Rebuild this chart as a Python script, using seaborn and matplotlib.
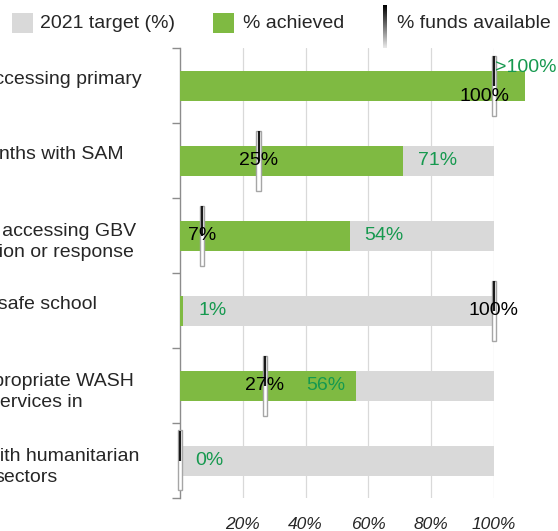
import numpy as np
import pandas as pd
import seaborn as sns
import matplotlib.pyplot as plt
from matplotlib import transforms
from matplotlib.patches import Rectangle

# data
row_ids = ['r1', 'r2', 'r3', 'r4', 'r5', 'r6']
label_lines = [
    ['Children accessing primary'],
    ['Children 6-59 months with SAM'],
    ['Women and girls accessing GBV', 'prevention, mitigation or response'],
    ['Children learning in a safe school'],
    ['People with appropriate WASH', 'services in'],
    ['Programmes coordinated with humanitarian', 'sectors'],
]
target = [100, 100, 100, 100, 100, 100]
achieved = [110, 71, 54, 1, 56, 0]
achieved_text = ['>100%', '71%', '54%', '1%', '56%', '0%']
funds = [100, 25, 7, 100, 27, 0]
funds_text = ['100%', '25%', '7%', '100%', '27%', '']
x_ticks = [20, 40, 60, 80, 100]
legend_labels = ['2021 target (%)', '% achieved', '% funds available']

# layout (pixels of the 558x531 canvas)
W, H = 558, 531
label_right_px = [[142], [124], [136, 134], [97], [134, 83], [139, 58]]
achieved_shift = {0: (-14.5, -0.24), 4: (-20.7, 0.0)}
funds_shift = {0: (-3.0, 0.15)}

GRAY = '#d9d9d9'
GREEN = '#7fba42'
TXT_GREEN = '#16994f'
AXIS_GRAY = '#8c8c8c'

sns.set_style('white')
plt.rcParams['font.family'] = ['Liberation Sans', 'DejaVu Sans']

fig = plt.figure(figsize=(W / 100, H / 100), dpi=100)
ax = fig.add_axes([180 / W, 1 - 498 / H, 314 / W, 450 / H])

df = pd.DataFrame({'row': row_ids, 'target': target, 'achieved': achieved})
sns.barplot(data=df, y='row', x='target', color=GRAY, saturation=1,
            width=0.4, orient='h', ax=ax, zorder=2)
sns.barplot(data=df, y='row', x='achieved', color=GREEN, saturation=1,
            width=0.4, orient='h', ax=ax, zorder=3)
for p in ax.patches:
    p.set_clip_on(False)
    p.set_linewidth(0)

ax.set_xlim(0, 100)
ax.set_ylim(len(row_ids) - 0.5, -0.5)

# funds markers
bw = 1.3
for i, f in enumerate(funds):
    ax.add_patch(Rectangle((f - bw / 2, i - 0.4), bw, 0.8, facecolor='white',
                           edgecolor='#a6a6a6', lw=1, zorder=4, clip_on=False))
    ax.plot([f, f], [i - 0.39, i], color='#1a1a1a', lw=1.6, zorder=5,
            clip_on=False, solid_capstyle='butt')

for i, (a, t) in enumerate(zip(achieved, achieved_text)):
    dx, dy = achieved_shift.get(i, (0, 0))
    ax.text(a + 4.8 + dx, i + dy, t, ha='left', va='center', fontsize=14,
            color=TXT_GREEN, zorder=6, clip_on=False)

for i, (f, t) in enumerate(zip(funds, funds_text)):
    dx, dy = funds_shift.get(i, (0, 0))
    ax.text(f + dx, i + dy, t, ha='center', va='center', fontsize=14,
            color='black', zorder=6, clip_on=False)

# axes styling
for s in ['top', 'right', 'bottom']:
    ax.spines[s].set_visible(False)
ax.spines['left'].set_color(AXIS_GRAY)
ax.spines['left'].set_linewidth(1)
ax.set_yticks(np.arange(-0.5, len(row_ids), 1))
ax.set_yticklabels([])
ax.tick_params(axis='y', left=True, length=6, width=1, color=AXIS_GRAY,
               direction='out')
ax.set_xticks(x_ticks)
ax.set_xticklabels([f'{t}%' for t in x_ticks], fontsize=12.5, style='italic')
ax.tick_params(axis='x', bottom=False, length=0, pad=14)
ax.grid(axis='x', color=GRAY, lw=0.9)
ax.grid(axis='y', visible=False)
ax.set_axisbelow(True)
ax.set_xlabel('')
ax.set_ylabel('')

# category labels (cut by the left edge of the canvas)
trans = transforms.blended_transform_factory(fig.transFigure, ax.transData)
for i, lines in enumerate(label_lines):
    offs = [-0.08] if len(lines) == 1 else [-0.05, 0.23]
    for line, off, xr in zip(lines, offs, label_right_px[i]):
        fig.text(xr / W, i + off, line, transform=trans, ha='right',
                 va='center', fontsize=14)

# legend drawn by hand
def px_rect(x0, y0, w, h, color):
    fig.add_artist(Rectangle((x0 / W, 1 - (y0 + h) / H), w / W, h / H,
                             transform=fig.transFigure, color=color, lw=0))

px_rect(12, 13, 21, 20, GRAY)
fig.text(40 / W, 1 - 24 / H, legend_labels[0], ha='left', va='center', fontsize=14)
px_rect(213, 13, 21, 20, GREEN)
fig.text(243 / W, 1 - 24 / H, legend_labels[1], ha='left', va='center', fontsize=14)
lax = fig.add_axes([383 / W, 1 - 48 / H, 4 / W, 43 / H])
lax.imshow(np.linspace(0, 1, 50).reshape(-1, 1), cmap='gray', aspect='auto',
           vmin=0, vmax=1.1)
lax.axis('off')
fig.text(397 / W, 1 - 24 / H, legend_labels[2], ha='left', va='center', fontsize=14)

fig.savefig('out.png', dpi=100)
